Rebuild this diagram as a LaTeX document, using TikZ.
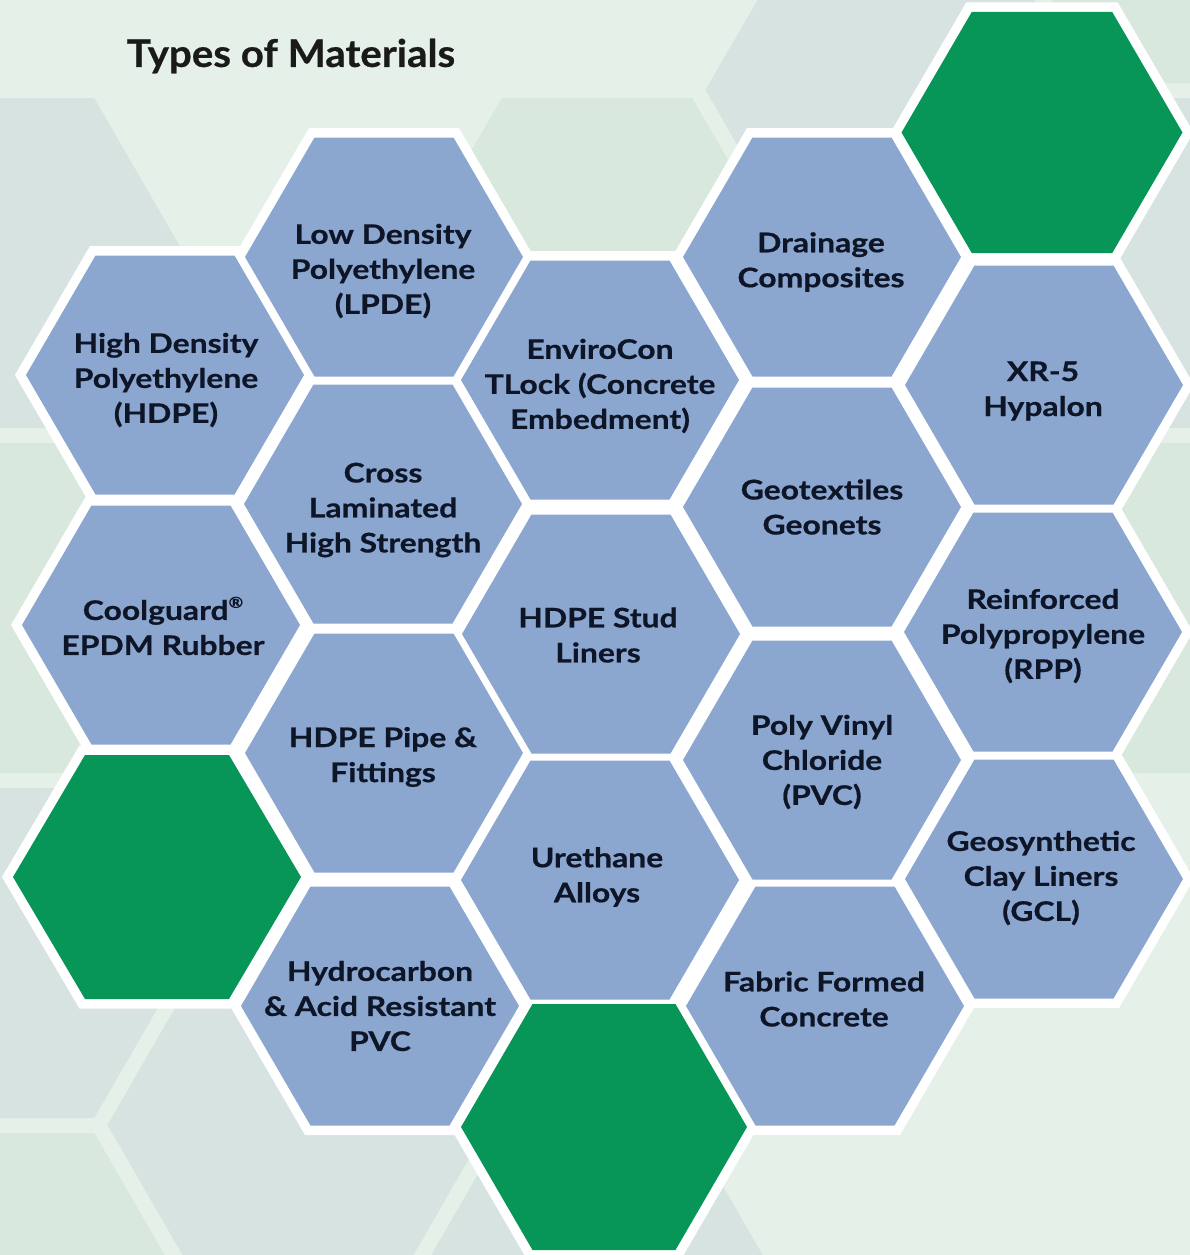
\documentclass[tikz,border=0pt]{standalone}
\usepackage{fontspec}
\setmainfont{Lato}
\newfontfamily\cellfont{Lato}[FakeStretch=1.18,FakeBold=0.6]
\newfontfamily\headfont{Lato}[FakeStretch=1.06,FakeBold=0.6]
\definecolor{bgbase}{HTML}{E4F0E8}
\definecolor{bggray}{HTML}{D7E3E0}
\definecolor{bggreen}{HTML}{D8E8DD}
\definecolor{cellblue}{HTML}{8BA7D0}
\definecolor{cellgreen}{HTML}{079658}
\definecolor{ink}{HTML}{0D1527}
\definecolor{titleink}{HTML}{1A1A1A}
% flat-topped hexagon around the origin: #1 = corner radius, #2 = half height
\newcommand\hexagon[2]{({#1},0) -- ({(#1)/2},{#2}) -- ({-(#1)/2},{#2}) -- ({-(#1)},0) -- ({-(#1)/2},{-(#2)}) -- ({(#1)/2},{-(#2)}) -- cycle}
\begin{document}
\begin{tikzpicture}[x=1pt,y=-1pt,
  celltext/.style={align=center,text=ink,inner sep=0pt,
    font=\cellfont\bfseries\fontsize{27}{35}\selectfont},
  titletext/.style={text=titleink,inner sep=0pt,
    font=\headfont\bfseries\fontsize{38}{44}\selectfont}]
% page and background honeycomb
\fill[bgbase] (0,0) rectangle (1190,1255);
\useasboundingbox (0,0) rectangle (1190,1255);
\begin{scope}
\clip (0,0) rectangle (1190,1255);
\foreach \x/\y/\c in {-1/263/bggray,-1/608/bggreen,-1/953/bggray,-1/1298/bggreen,
  298/435/bggreen,298/780/bggray,298/1125/bggray,
  597/263/bggreen,597/608/bggray,597/953/bggreen,597/1298/bggray,
  896/90/bggray,896/435/bggreen,896/780/bggray,
  1195/-82/bggreen,1195/263/bggray,1195/608/bggreen}
  \fill[\c,shift={(\x,\y)}] \hexagon{190.5}{165};
\end{scope}
% material cells: name / cell centre / label centre / label
\def\bluecells{hdpe/165/375/166/380/{High Density\\Polyethylene\\(HDPE)},
  coolguard/161/625/163/626/{Coolguard\raisebox{0.45em}{\fontsize{15}{15}\selectfont ®}\\EPDM Rubber},
  ldpe/384/257/383/271/{Low Density\\Polyethylene\\(LPDE)},
  crosslam/383/504/383/510/{Cross\\Laminated\\High Strength},
  pipe/384/753/383/757/{HDPE Pipe \&\\Fittings},
  hydrocarbon/380/1006/380/1006/{Hydrocarbon\\\& Acid Resistant\\PVC},
  envirocon/600/380/600/386/{EnviroCon\\TLock (Concrete\\Embedment)},
  stud/601/634/598/635/{HDPE Stud\\Liners},
  urethane/600/880/597/877/{Urethane\\Alloys},
  drainage/822/257/821/262/{Drainage\\Composites},
  geotextiles/822/507/822/507/{Geotextiles\\Geonets},
  pvc/822/760/822/762/{Poly Vinyl\\Chloride\\(PVC)},
  fabric/825/1006/824/999/{Fabric Formed\\Concrete},
  xrfive/1044/385/1043/391/{XR-5\\Hypalon},
  rpp/1043/632/1043/636/{Reinforced\\Polypropylene\\(RPP)},
  gcl/1044/879/1041/878/{Geosynthetic\\Clay Liners\\(GCL)}}
% plain green cells: centre / corner radius / half height
\def\greencells{157/877/144/122,604/1127/143/123,1042/132.5/140.5/120.5}
% white rims first, so that no rim covers a neighbouring cell
\foreach \n/\x/\y/\tx/\ty/\t in \bluecells
  \fill[white,shift={(\x,\y)}] \hexagon{150}{129};
\foreach \x/\y/\r/\h in \greencells
  \fill[white,shift={(\x,\y)}] \hexagon{\r+11}{\h+9.5};
\foreach \n/\x/\y/\tx/\ty/\t in \bluecells {
  \fill[cellblue,shift={(\x,\y)}] \hexagon{139}{119.5};
  \node[celltext] (\n) at (\tx,\ty) {\t};
}
\foreach \x/\y/\r/\h in \greencells
  \fill[cellgreen,shift={(\x,\y)}] \hexagon{\r}{\h};
% heading
\node[titletext] (title) at (291,56) {Types of Materials};
\end{tikzpicture}
\end{document}
